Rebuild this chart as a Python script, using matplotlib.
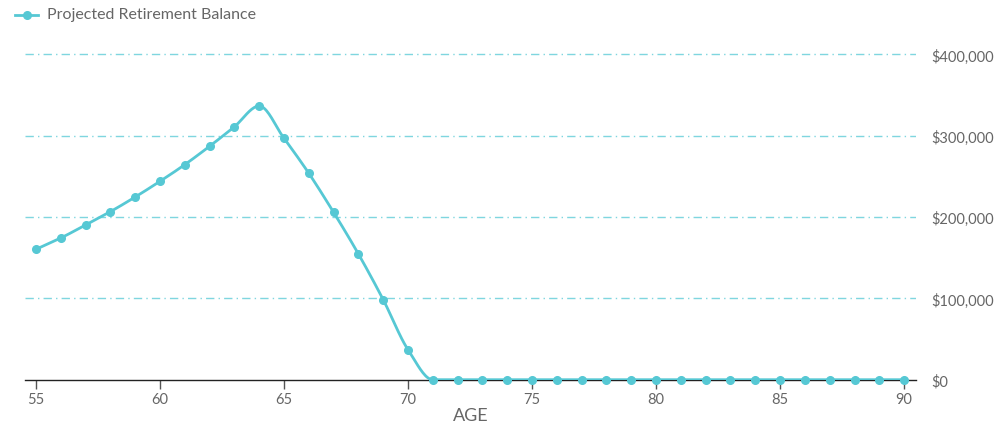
import numpy as np
import matplotlib
matplotlib.use("Agg")
import matplotlib.pyplot as plt
from matplotlib.ticker import FuncFormatter

ages = list(range(55, 91))
balance = [160300, 174200, 190200, 206600, 224600, 243900, 264400, 287000,
           311000, 336500, 296800, 253800, 205800, 154600, 98400, 36900] + [0] * 20
x_ticks = [55, 60, 65, 70, 75, 80, 85, 90]
y_ticks = [0, 100000, 200000, 300000, 400000]
series_name = "Projected Retirement Balance"
x_label = "AGE"

LINE = "#56c8d4"
GRID = "#7fd6df"
TXT = "#666666"

plt.rcParams['font.family'] = ['Lato', 'DejaVu Sans']


def monotone_curve(x, y, n=20):
    x = np.asarray(x, float)
    y = np.asarray(y, float)
    h = np.diff(x)
    d = np.diff(y) / h
    m = np.zeros_like(y)
    m[0] = d[0]
    m[-1] = d[-1]
    for i in range(1, len(y) - 1):
        if d[i - 1] * d[i] <= 0:
            m[i] = 0
        else:
            w1 = 2 * h[i] + h[i - 1]
            w2 = h[i] + 2 * h[i - 1]
            m[i] = (w1 + w2) / (w1 / d[i - 1] + w2 / d[i])
    xs, ys = [], []
    for i in range(len(x) - 1):
        t = np.linspace(0, 1, n, endpoint=False)
        h00 = 2 * t**3 - 3 * t**2 + 1
        h10 = t**3 - 2 * t**2 + t
        h01 = -2 * t**3 + 3 * t**2
        h11 = t**3 - t**2
        xs.append(x[i] + t * h[i])
        ys.append(h00 * y[i] + h10 * h[i] * m[i] + h01 * y[i + 1] + h11 * h[i] * m[i + 1])
    xs.append([x[-1]])
    ys.append([y[-1]])
    return np.concatenate(xs), np.concatenate(ys)


fig = plt.figure(figsize=(9.97, 4.27), dpi=100)
ax = fig.add_axes([0.0251, 0.1084, 0.8937, 0.7715])

cx, cy = monotone_curve(ages, balance)
ax.plot(cx, cy, color=LINE, lw=2.0, zorder=4, solid_capstyle='round')
ax.plot(ages, balance, 'o', color=LINE, ms=5.5, zorder=5, clip_on=False)

ax.set_xlim(54.56, 90.48)
ax.set_ylim(0, 405000)

for v in y_ticks[1:]:
    ax.axhline(v, color=GRID, lw=1.0, ls=(0, (6, 3, 1, 3)), zorder=1)

for s in ['top', 'left', 'right']:
    ax.spines[s].set_visible(False)
ax.spines['bottom'].set_color('#222222')
ax.spines['bottom'].set_linewidth(1.0)
ax.spines['bottom'].set_zorder(3)

ax.set_xticks(x_ticks)
ax.tick_params(axis='x', direction='out', length=6.5, width=1, color='#555555',
               labelsize=10.5, labelcolor=TXT, pad=2)
ax.yaxis.tick_right()
ax.set_yticks(y_ticks)
ax.yaxis.set_major_formatter(FuncFormatter(lambda v, p: "${:,.0f}".format(v)))
ax.tick_params(axis='y', length=0, labelsize=10.5, labelcolor=TXT, pad=11)

ax.set_xlabel(x_label, fontsize=13, color=TXT, labelpad=1)

# legend
fig.lines.append(plt.Line2D([15 / 997, 38 / 997], [1 - 16 / 427, 1 - 16 / 427],
                            color=LINE, lw=2.0, transform=fig.transFigure))
fig.lines.append(plt.Line2D([27 / 997], [1 - 16 / 427], marker='o', ms=5.5,
                            color=LINE, transform=fig.transFigure))
fig.text(47 / 997, 1 - 15 / 427, series_name, fontsize=11.5, color=TXT,
         va='center', ha='left')

fig.savefig("out.png", dpi=100)
